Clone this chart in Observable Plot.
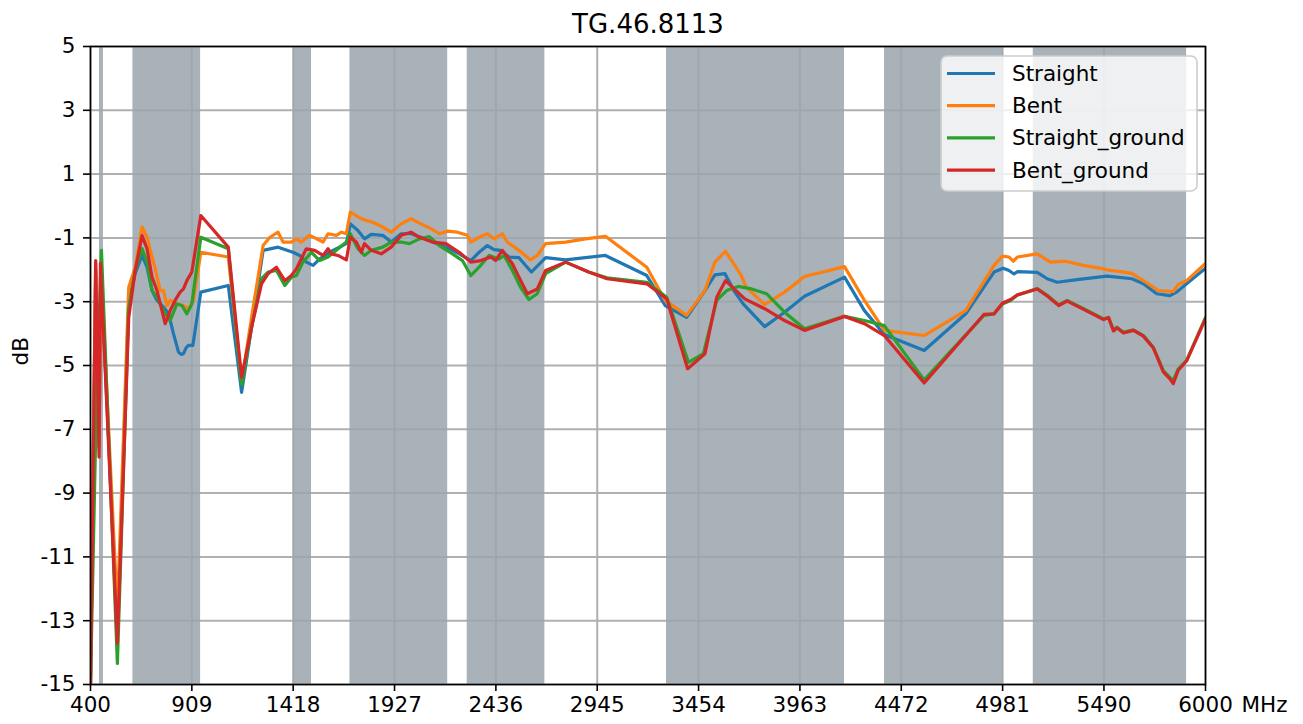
<!DOCTYPE html>
<html><head><meta charset="utf-8">
<script src="https://cdn.jsdelivr.net/npm/d3@7"></script>
<script src="https://cdn.jsdelivr.net/npm/@observablehq/plot@0.6"></script>
<style>
body{margin:0;background:#fff;}
#chart{width:1303px;height:724px;}
</style>
</head><body><div id="chart"></div>
<script>
const title = "TG.46.8113";
const seriesNames = ["Straight", "Bent", "Straight_ground", "Bent_ground"];
const seriesColors = ["#1f77b4", "#ff7f0e", "#2ca02c", "#d62728"];
const xTicks = [400, 909, 1418, 1927, 2436, 2945, 3454, 3963, 4472, 4981, 5490, 6000];
const yTicks = [5, 3, 1, -1, -3, -5, -7, -9, -11, -13, -15];
const bandLo = [445, 613, 1420, 1703, 2292, 3293, 4388, 5135];
const bandHi = [465, 953, 1510, 2194, 2682, 4187, 4983, 5905];

const straight = [[400,-15],[426,-2.0],[443,-7.5],[452,-2.0],[535,-13.4],[592,-3.0],[625,-2.1],[659,-1.55],[684,-1.92],[709,-2.65],[734,-2.96],[767,-3.17],[792,-3.38],[817,-4.01],[842,-4.58],[855,-4.65],[867,-4.63],[880,-4.45],[892,-4.37],[914,-4.37],[954,-2.7],[1092,-2.49],[1159,-5.84],[1209,-3.8],[1267,-1.39],[1342,-1.29],[1417,-1.45],[1451,-1.55],[1484,-1.76],[1518,-1.86],[1551,-1.66],[1618,-1.39],[1685,-1.18],[1705,-0.56],[1743,-0.77],[1776,-1.03],[1810,-0.89],[1868,-0.92],[1910,-1.13],[1960,-0.87],[2010,-0.87],[2060,-0.98],[2118,-1.13],[2185,-1.29],[2252,-1.5],[2310,-1.71],[2352,-1.45],[2393,-1.24],[2427,-1.37],[2460,-1.39],[2502,-1.6],[2552,-1.62],[2614,-2.07],[2686,-1.62],[2786,-1.69],[2886,-1.62],[2986,-1.55],[3194,-2.18],[3286,-3.12],[3394,-3.49],[3486,-2.65],[3536,-2.16],[3586,-2.12],[3636,-2.7],[3678,-3.07],[3786,-3.78],[3886,-3.33],[3986,-2.83],[4187,-2.23],[4287,-3.28],[4387,-4.03],[4587,-4.53],[4796,-3.38],[4938,-2.07],[4984,-1.95],[5013,-2.02],[5038,-2.13],[5055,-2.06],[5155,-2.08],[5205,-2.28],[5255,-2.39],[5355,-2.31],[5505,-2.2],[5555,-2.23],[5630,-2.28],[5688,-2.44],[5755,-2.75],[5821,-2.81],[5855,-2.7],[5905,-2.44],[6000,-1.95]];

const bent = [[400,-15],[426,-1.8],[443,-7.6],[452,-1.9],[535,-12.7],[592,-2.55],[625,-1.92],[659,-0.66],[684,-0.98],[709,-1.6],[725,-1.96],[750,-2.65],[767,-2.65],[784,-3.12],[800,-2.96],[834,-3.07],[867,-3.12],[892,-3.22],[917,-2.96],[954,-1.45],[1092,-1.6],[1159,-5.52],[1209,-3.49],[1267,-1.24],[1301,-0.98],[1342,-0.82],[1367,-1.13],[1409,-1.13],[1434,-1.03],[1459,-1.13],[1501,-0.92],[1568,-1.13],[1593,-0.87],[1635,-0.92],[1660,-0.82],[1685,-0.87],[1705,-0.19],[1735,-0.3],[1760,-0.4],[1785,-0.45],[1818,-0.51],[1868,-0.66],[1910,-0.82],[1960,-0.56],[2010,-0.4],[2060,-0.56],[2110,-0.71],[2152,-0.87],[2193,-0.79],[2243,-0.82],[2293,-0.92],[2310,-1.13],[2352,-0.98],[2393,-0.87],[2427,-1.03],[2468,-0.87],[2493,-1.13],[2552,-1.39],[2610,-1.69],[2644,-1.55],[2686,-1.18],[2786,-1.13],[2886,-1.03],[2986,-0.95],[3194,-1.92],[3286,-2.96],[3394,-3.43],[3486,-2.65],[3536,-1.76],[3589,-1.42],[3636,-1.86],[3669,-2.18],[3694,-2.55],[3786,-3.09],[3886,-2.7],[3986,-2.21],[4187,-1.9],[4287,-2.96],[4387,-3.9],[4587,-4.06],[4796,-3.28],[4938,-1.86],[4980,-1.57],[5013,-1.6],[5035,-1.73],[5055,-1.6],[5155,-1.5],[5221,-1.76],[5296,-1.73],[5388,-1.86],[5488,-1.97],[5521,-2.02],[5555,-2.04],[5630,-2.11],[5688,-2.34],[5763,-2.65],[5838,-2.68],[5863,-2.46],[5905,-2.34],[6000,-1.8]];

const straightGround = [[400,-15],[430,-6],[455,-1.39],[535,-14.34],[592,-3.2],[625,-2.0],[659,-1.34],[684,-1.76],[709,-2.65],[734,-2.86],[767,-3.28],[800,-3.59],[834,-3.07],[859,-3.12],[884,-3.38],[909,-3.07],[954,-0.98],[1092,-1.34],[1159,-5.6],[1209,-3.8],[1259,-2.28],[1292,-2.07],[1334,-2.02],[1376,-2.49],[1409,-2.23],[1434,-2.18],[1467,-1.76],[1509,-1.45],[1551,-1.71],[1593,-1.6],[1685,-1.13],[1705,-0.87],[1743,-1.34],[1776,-1.55],[1810,-1.39],[1868,-1.29],[1910,-1.13],[1960,-1.13],[2002,-1.18],[2052,-1.03],[2102,-0.96],[2152,-1.24],[2218,-1.5],[2268,-1.71],[2310,-2.18],[2360,-1.86],[2402,-1.55],[2452,-1.66],[2477,-1.55],[2519,-2.02],[2560,-2.55],[2602,-2.93],[2644,-2.75],[2686,-2.12],[2786,-1.76],[2902,-2.07],[2994,-2.25],[3194,-2.39],[3294,-2.86],[3403,-4.9],[3478,-4.63],[3545,-2.96],[3595,-2.65],[3653,-2.52],[3720,-2.6],[3795,-2.75],[3886,-3.33],[3986,-3.85],[4187,-3.46],[4287,-3.59],[4387,-3.75],[4587,-5.45],[4887,-3.43],[4938,-3.38],[4980,-3.07],[5021,-2.96],[5055,-2.8],[5155,-2.59],[5205,-2.8],[5263,-3.1],[5305,-2.96],[5388,-3.22],[5488,-3.54],[5513,-3.49],[5538,-3.9],[5555,-3.8],[5588,-3.96],[5638,-3.88],[5688,-4.06],[5738,-4.43],[5788,-5.16],[5821,-5.37],[5838,-5.47],[5863,-5.11],[5905,-4.84],[6000,-3.5]];

const bentGround = [[400,-15],[426,-1.71],[443,-7.87],[450,-1.8],[535,-13.7],[592,-3.5],[625,-2.0],[659,-0.93],[684,-1.34],[709,-2.23],[734,-2.65],[759,-3.28],[775,-3.69],[800,-3.28],[825,-2.96],[850,-2.7],[867,-2.6],[884,-2.34],[909,-2.07],[954,-0.3],[1092,-1.29],[1159,-5.37],[1209,-3.8],[1259,-2.44],[1292,-2.12],[1334,-1.92],[1376,-2.34],[1409,-2.18],[1434,-1.97],[1467,-1.55],[1484,-1.34],[1526,-1.39],[1568,-1.55],[1593,-1.34],[1610,-1.5],[1643,-1.55],[1685,-1.69],[1705,-0.98],[1735,-1.13],[1760,-1.45],[1776,-1.18],[1810,-1.39],[1860,-1.5],[1910,-1.29],[1960,-0.92],[2010,-0.82],[2052,-0.98],[2118,-1.13],[2185,-1.18],[2252,-1.45],[2310,-1.76],[2360,-1.71],[2410,-1.6],[2435,-1.71],[2468,-1.39],[2519,-1.81],[2552,-2.23],[2594,-2.75],[2644,-2.6],[2686,-2.02],[2786,-1.76],[2902,-2.07],[2994,-2.28],[3194,-2.44],[3294,-2.91],[3399,-5.1],[3486,-4.63],[3545,-2.86],[3589,-2.34],[3686,-2.91],[3786,-3.22],[3886,-3.59],[3986,-3.9],[4187,-3.46],[4287,-3.69],[4387,-4.06],[4587,-5.55],[4887,-3.4],[4938,-3.38],[4980,-3.05],[5021,-2.93],[5055,-2.78],[5155,-2.6],[5205,-2.82],[5263,-3.12],[5305,-2.98],[5388,-3.24],[5488,-3.56],[5513,-3.5],[5538,-3.92],[5555,-3.82],[5588,-3.98],[5638,-3.9],[5688,-4.08],[5738,-4.45],[5788,-5.2],[5821,-5.42],[5838,-5.57],[5863,-5.15],[5905,-4.86],[6000,-3.53]];

const allSeries = [straight, bent, straightGround, bentGround];
const rows = [];
allSeries.forEach((s, i) => s.forEach(([f, db]) => rows.push({series: seriesNames[i], f, db})));
const bands = bandLo.map((lo, i) => ({lo, hi: bandHi[i]}));

const FS = 21.5;
const chart = Plot.plot({
  width: 1303, height: 724,
  marginLeft: 90, marginRight: 98, marginTop: 46, marginBottom: 40,
  style: {fontFamily: "DejaVu Sans", fontSize: FS + "px", color: "#000", background: "#fff", overflow: "visible"},
  x: {domain: [400, 6000], label: null},
  y: {domain: [-15, 5], label: null},
  color: {domain: seriesNames, range: seriesColors},
  marks: [
    Plot.gridX(xTicks, {stroke: "#b0b0b0", strokeOpacity: 1, strokeWidth: 2}),
    Plot.gridY(yTicks, {stroke: "#b0b0b0", strokeOpacity: 1, strokeWidth: 2}),
    Plot.rect(bands, {x1: "lo", x2: "hi", fill: "#9aa5ac", fillOpacity: 0.86}),
    Plot.line(rows, {x: "f", y: "db", z: "series", stroke: "series", strokeWidth: 3.2, clip: true, strokeLinejoin: "round"}),
    Plot.frame({stroke: "#000", strokeWidth: 1.6}),
    Plot.axisX(xTicks, {tickSize: 7, tickPadding: 5, tickFormat: d => String(d), strokeWidth: 1.6, fontSize: FS, label: null}),
    Plot.axisY(yTicks, {tickSize: 7, tickPadding: 8, tickFormat: d => String(d), strokeWidth: 1.6, fontSize: FS, label: null}),
    Plot.text([title], {frameAnchor: "top", lineAnchor: "top", dy: -32, fontSize: 26}),
    Plot.text(["dB"], {frameAnchor: "left", dx: -69, rotate: -90, fontSize: FS}),
    Plot.text(["MHz"], {frameAnchor: "bottom-right", lineAnchor: "top", dx: 36, dy: 12, textAnchor: "start", fontSize: FS})
  ]
});
document.getElementById("chart").appendChild(chart);

// legend (inside plot, top-right)
const svg = d3.select(chart);
const lg = svg.append("g").attr("transform", "translate(941,56)");
lg.append("rect").attr("width", 256).attr("height", 135).attr("rx", 6)
  .attr("fill", "#fff").attr("fill-opacity", 0.8).attr("stroke", "#cccccc").attr("stroke-width", 1.6);
seriesNames.forEach((name, i) => {
  const y = 17.5 + i * 32.2;
  lg.append("line").attr("x1", 6).attr("x2", 54).attr("y1", y).attr("y2", y)
    .attr("stroke", seriesColors[i]).attr("stroke-width", 3.2);
  lg.append("text").attr("x", 71).attr("y", y).attr("dy", "0.35em")
    .attr("text-anchor", "start")
    .attr("font-family", "DejaVu Sans").attr("font-size", FS).attr("fill", "#000").text(name);
});
</script>
</body></html>
